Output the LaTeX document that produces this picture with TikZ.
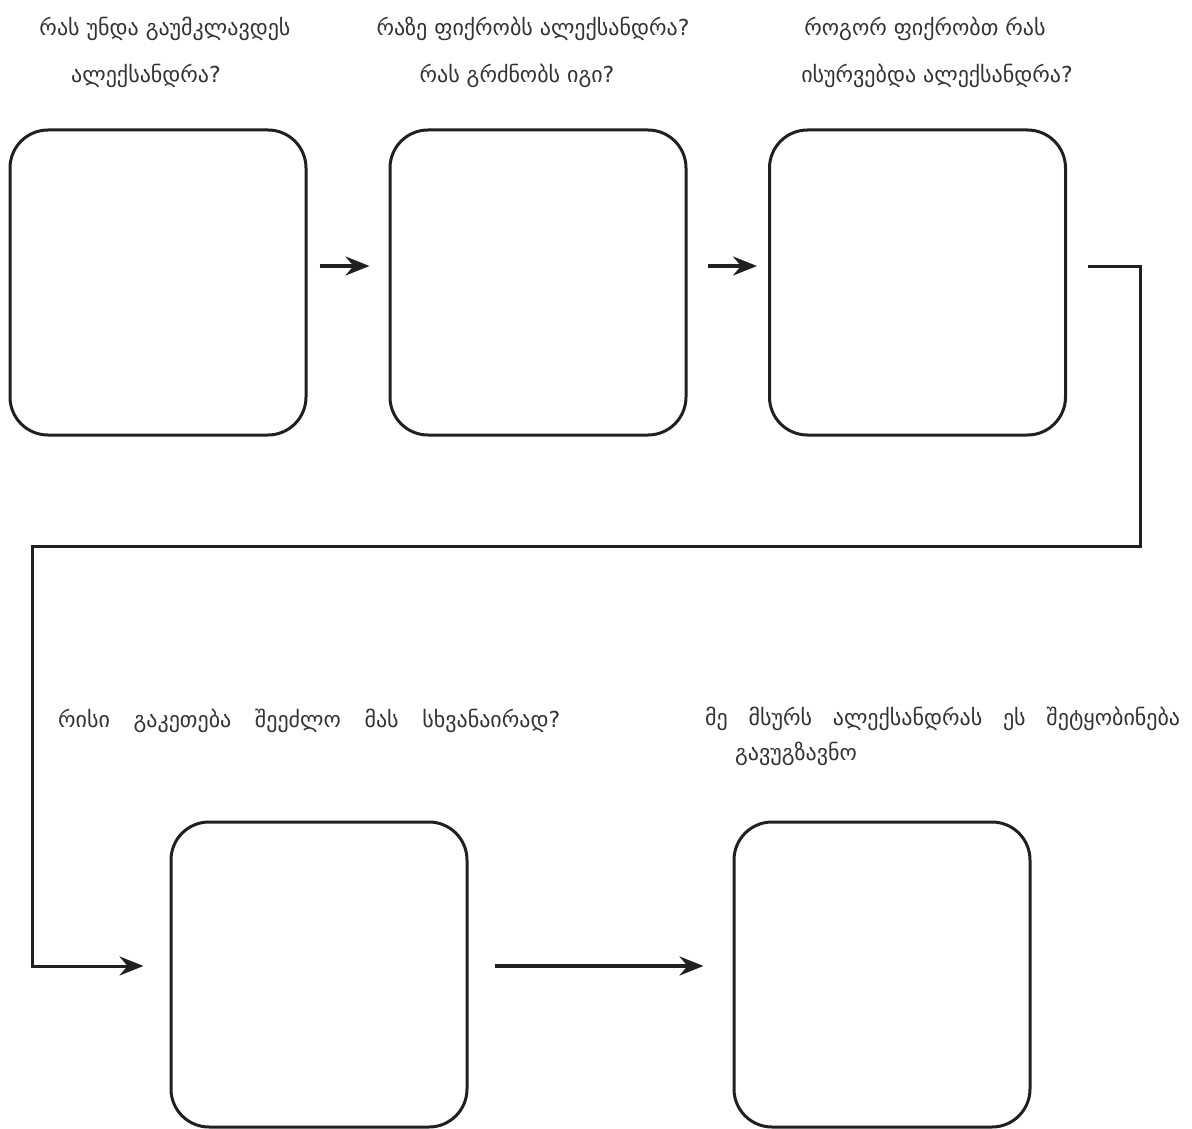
\documentclass[tikz,border=0pt]{standalone}
\usepackage{fontspec}
\setmainfont{DejaVu Sans}
\usetikzlibrary{arrows.meta,calc}
\definecolor{ink}{HTML}{231F20}
\definecolor{txt}{HTML}{333333}
\begin{document}
\begin{tikzpicture}[x=1pt,y=-1pt,
  box/.style={draw=ink,line width=3pt,rounded corners=38pt,minimum width=296pt,minimum height=305pt,inner sep=0pt},
  arr/.style={draw=ink,line width=3.5pt,-{Stealth[length=24pt,width=19pt,inset=8pt]}},
  lab/.style={text=txt,font=\fontsize{22}{26}\selectfont,inner sep=0pt,anchor=base}]
\useasboundingbox[fill=white] (0,0) rectangle (1192,1129);
\node[box] (b1) at (158,282.5) {};
\node[box] (b2) at (538,282.5) {};
\node[box] (b3) at (917.5,282.5) {};
\node[box] (b4) at (319,974.5) {};
\node[box] (b5) at (882,974.5) {};
% labels
\node[lab] (t1a) at (165,36) {რას უნდა გაუმკლავდეს};
\node[lab] (t1b) at (146,83) {ალექსანდრა?};
\node[lab] (t2a) at (533,36) {რაზე ფიქრობს ალექსანდრა?};
\node[lab] (t2b) at (517,83) {რას გრძნობს იგი?};
\node[lab] (t3a) at (925,36) {როგორ ფიქრობთ რას};
\node[lab] (t3b) at (937,83) {ისურვებდა ალექსანდრა?};
\node[lab,anchor=base west] (t4) at (58,727) {\makebox[502pt][s]{რისი გაკეთება შეეძლო მას სხვანაირად?}};
\node[lab,anchor=base west] (t5a) at (705,725) {\makebox[475pt][s]{მე მსურს ალექსანდრას ეს შეტყობინება}};
\node[lab,anchor=base west] (t5b) at (735,760) {გავუგზავნო};
% connectors
\coordinate (a1s) at ($(b1.east)+(12,-16.5)$);
\coordinate (a1e) at ($(b2.west)+(-19,-16.5)$);
\coordinate (a2s) at ($(b2.east)+(20,-16.5)$);
\coordinate (a2e) at ($(b3.west)+(-11,-16.5)$);
\draw[arr] (a1s) -- (a1e);
\draw[arr] (a2s) -- (a2e);
\coordinate (s3) at ($(b3.east)+(21,-16.5)$);
\coordinate (c1) at (1140,546);
\coordinate (c2) at (32,966);
\coordinate (e4) at ($(b4.west |- c2)+(-26,0)$);
\draw[arr,line width=3pt] (s3) -| (c1) -| (c2) -- (e4);
\coordinate (s4) at ($(b4.east |- c2)+(26,0)$);
\coordinate (e5) at ($(b5.west |- c2)+(-29,0)$);
\draw[arr] (s4) -- (e5);
\end{tikzpicture}
\end{document}
